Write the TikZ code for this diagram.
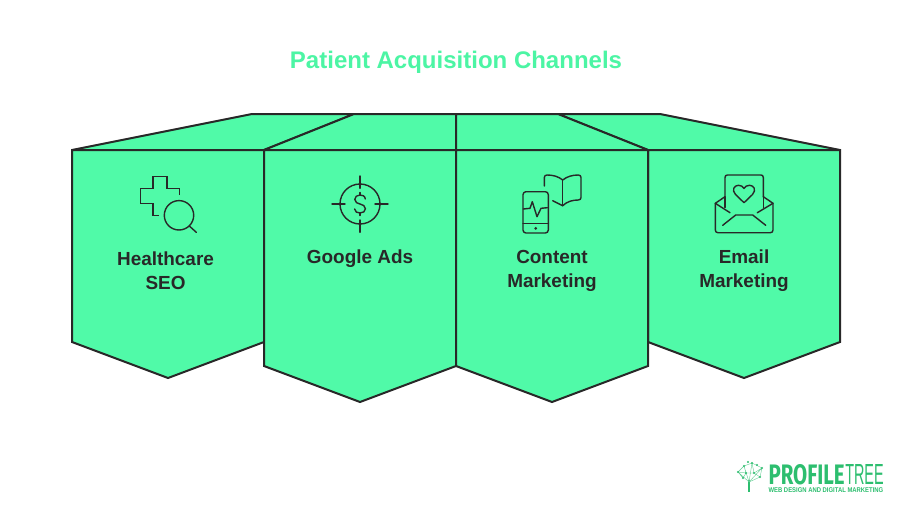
\documentclass[tikz,border=0pt]{standalone}
\usepackage{fontspec}
\usepackage{graphicx}
\setmainfont{Liberation Sans}
\newfontfamily\logobold{Fira Sans}[BoldFont={* Bold}]
\definecolor{mint}{HTML}{50FAA8}
\definecolor{ink}{HTML}{282828}
\definecolor{titlegreen}{HTML}{4CF5A4}
\definecolor{logogreen}{HTML}{2DBE6F}
\tikzset{
  panel/.style={fill=mint,draw=ink,line width=1.5pt,line join=miter},
  icon/.style={draw=ink,line width=1.05pt,line join=round,line cap=round},
  label/.style={text=ink,align=center,font=\bfseries\fontsize{14.2pt}{18pt}\selectfont,inner sep=0pt},
  branch/.style={draw=logogreen!75,line width=0.3pt},
  leaf/.style={fill=logogreen,draw=none}
}
\begin{document}
\begin{tikzpicture}[x=0.75pt,y=-0.75pt]
\useasboundingbox (0,0) rectangle (919,517);
\fill[white] (0,0) rectangle (919,517);
\node[inner sep=0pt,text=titlegreen,font=\bfseries\fontsize{18pt}{22pt}\selectfont] (title) at (456,62) {Patient Acquisition Channels};
% back faces
\draw[panel] (72,150) -- (252,114) -- (354,114) -- (264,150) -- cycle;
\draw[panel] (840,150) -- (660,114) -- (558,114) -- (648,150) -- cycle;
\draw[panel] (264,150) -- (354,114) -- (456,114) -- (456,150) -- cycle;
\draw[panel] (648,150) -- (558,114) -- (456,114) -- (456,150) -- cycle;
% front faces
\draw[panel] (72,150) -- (264,150) -- (264,342) -- (168,378) -- (72,342) -- cycle;
\draw[panel] (648,150) -- (840,150) -- (840,342) -- (744,378) -- (648,342) -- cycle;
\draw[panel] (264,150) -- (456,150) -- (456,366) -- (360,402) -- (264,366) -- cycle;
\draw[panel] (456,150) -- (648,150) -- (648,366) -- (552,402) -- (456,366) -- cycle;
% labels
\node[label] (seo) at (165.5,270.5) {Healthcare\\SEO};
\node[label] (ads) at (360,258.5) {Google Ads};
\node[label] (content) at (552,270.5) {Content\\Marketing};
\node[label] (email) at (744,270.5) {Email\\Marketing};
% icon: cross and magnifier
\draw[icon,line cap=butt,line join=miter] (179.7,195) -- (179.7,188.7) -- (167,188.7) -- (167,176.7) -- (153,176.7) -- (153,188.7) -- (140.3,188.7) -- (140.3,203.3) -- (153,203.3) -- (153,215.3) -- (159,215.3);
\draw[icon] (179,215.3) circle (14.7);
\draw[icon] (189.3,226) -- (196.3,232.3);
% icon: target
\draw[icon] (360,204) circle (20);
\draw[icon] (360,176) -- (360,188.3) (360,220) -- (360,232.3) (332,204) -- (345,204) (375,204) -- (388,204);
\draw[icon] (365.3,199) .. controls (365,195.8) and (362.5,195) .. (360,195) .. controls (357,195) and (354.8,196.8) .. (354.8,199.4) .. controls (354.8,202.4) and (357.5,203.4) .. (360,204) .. controls (362.8,204.7) and (365.4,205.8) .. (365.4,208.8) .. controls (365.4,211.4) and (363,213) .. (360,213) .. controls (357.2,213) and (354.9,212) .. (354.6,209);
\draw[icon] (360,192.5) -- (360,195) (360,213) -- (360,215.5);
% icon: phone and book
\draw[icon,rounded corners=2.2pt] (523,191.7) rectangle (548.3,233);
\draw[icon] (523,223.7) -- (548.3,223.7);
\fill[ink] (535.7,228.3) circle (1.5);
\draw[icon] (523.3,209) -- (530,208.3) -- (532.3,201.7) -- (537,216.7) -- (541,208.3) -- (547.3,207.7);
\draw[icon] (544.3,186) -- (544.3,177.5) .. controls (544.3,175.8) and (545.5,175) .. (547,175) .. controls (553,175) and (558.5,176.5) .. (562.7,180) .. controls (567,176.5) and (572.5,175) .. (578.3,175) .. controls (580,175) and (581,176) .. (581,177.5) -- (581,197.5) .. controls (581,199) and (580,200) .. (578.3,200) .. controls (572.5,200) and (567,201.5) .. (562.7,205.7) -- (552.7,200.7);
\draw[icon] (562.7,180) -- (562.7,205.7);
% icon: envelope
\draw[icon] (725,197) -- (725,177.5) .. controls (725,175.8) and (726,175) .. (727.5,175) -- (760.8,175) .. controls (762.3,175) and (763.3,175.8) .. (763.3,177.5) -- (763.3,197);
\draw[icon] (725,207.5) -- (725,197);
\draw[icon] (763.3,207.5) -- (763.3,197);
\draw[icon] (725,196.7) -- (715.3,203.3) -- (730,212.7);
\draw[icon] (763.3,196.7) -- (773,203.3) -- (757.3,212.7);
\draw[icon] (715.3,203.3) -- (715.3,230) .. controls (715.3,231.8) and (716.5,232.7) .. (718,232.7) -- (770.3,232.7) .. controls (772,232.7) and (773,231.8) .. (773,230) -- (773,203.3);
\draw[icon] (722.7,225.3) -- (735.7,215) -- (752.7,215) -- (765.7,225.3);
\draw[icon] (744,202.7) -- (735.5,194.5) .. controls (731.5,190) and (734,185.3) .. (738.5,185.3) .. controls (741,185.3) and (743,186.5) .. (744,188.5) .. controls (745,186.5) and (747,185.3) .. (749.5,185.3) .. controls (754,185.3) and (756.5,190) .. (752.5,194.5) -- cycle;
% logo
\node[anchor=north west,inner sep=0pt,text=logogreen] (logoa) at (768.3,464) {\resizebox{57pt}{15pt}{\logobold\bfseries PROFILE}};
\node[anchor=north west,inner sep=0pt,text=logogreen] (logob) at (845,464) {\resizebox{28.8pt}{15pt}{TREE}};
\node[anchor=north west,inner sep=0pt,text=logogreen] (logoc) at (768.3,487.5) {\resizebox{86pt}{3.6pt}{\bfseries WEB DESIGN AND DIGITAL MARKETING}};
\fill[logogreen] (747.8,480) rectangle (750,492);
\draw[branch] (749,482) -- (738,472) (749,482) -- (744,466) (749,482) -- (752,463) (749,482) -- (762,468) (749,482) -- (760,477)
 (738,472) -- (744,466) -- (752,463) -- (762,468) -- (760,477) -- (754,473) -- (746,473) -- (738,472) (744,466) -- (746,473) (752,463) -- (754,473) (762,468) -- (754,473) (738,472) -- (743,478) -- (746,473);
\foreach \p/\q in {738/472,744/466,752/463,762/468,760/477,754/473,746/473,743/478,748/462,757/465}
  \fill[leaf] (\p,\q) circle (1.1);
\end{tikzpicture}
\end{document}
